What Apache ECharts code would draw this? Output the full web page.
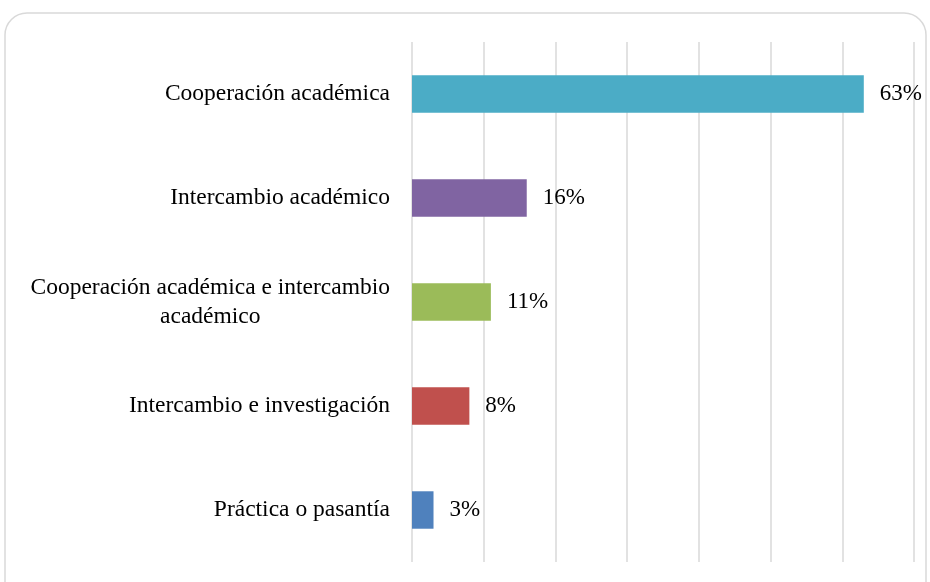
<!DOCTYPE html>
<html>
<head>
<meta charset="utf-8">
<script src="https://cdn.jsdelivr.net/npm/echarts@6/dist/echarts.min.js"></script>
<style>
html,body{margin:0;padding:0;background:#fff;}
#main{width:930px;height:582px;}
</style>
</head>
<body>
<div id="main"></div>
<script>
// categorias de abajo hacia arriba
var categorias = ['Práctica o pasantía', 'Intercambio e investigación', 'Cooperación académica e intercambio\nacadémico', 'Intercambio académico', 'Cooperación académica'];
var porcentajes = [3, 8, 11, 16, 63];
var colores = ['#4F81BD', '#C0504D', '#9BBB59', '#8064A2', '#4BACC6'];

var myChart = echarts.init(document.getElementById('main'));

var datos = [];
for (var i = 0; i < porcentajes.length; i++) {
	datos.push({value: porcentajes[i], itemStyle: {color: colores[i]}});
}

var fuente = '"Liberation Serif", "Times New Roman", serif';

var option = {
	backgroundColor: '#fff',
	textStyle: {fontFamily: fuente},
	graphic: [{
		type: 'rect',
		shape: {x: 5, y: 13, width: 921, height: 620, r: 22},
		style: {fill: 'none', stroke: '#d9d9d9', lineWidth: 1.5},
		z: -1
	}],
	grid: {
		left: 412,
		right: 16,
		top: 42,
		bottom: 20
	},
	xAxis: {
		type: 'value',
		min: 0,
		max: 70,
		interval: 10,
		axisLabel: {show: false},
		axisLine: {show: false},
		axisTick: {show: false},
		splitLine: {lineStyle: {color: '#d9d9d9', width: 1.5}}
	},
	yAxis: {
		type: 'category',
		data: categorias,
		axisLine: {show: false},
		axisTick: {show: false},
		axisLabel: {
			margin: 22,
			fontSize: 23.5,
			color: '#000',
			lineHeight: 29,
			fontFamily: fuente,
			formatter: function (v) {
				return '{c|' + v.split('\n').join('}\n{c|') + '}';
			},
			rich: {
				c: {align: 'center', fontSize: 23.5, color: '#000', lineHeight: 29, fontFamily: fuente}
			}
		}
	},
	series: [{
		type: 'bar',
		data: datos,
		barWidth: '36%',
		label: {
			show: true,
			position: 'right',
			distance: 16,
			fontSize: 23,
			color: '#000',
			fontFamily: fuente,
			formatter: '{c}%'
		}
	}]
};
myChart.setOption(option);
</script>
</body>
</html>
